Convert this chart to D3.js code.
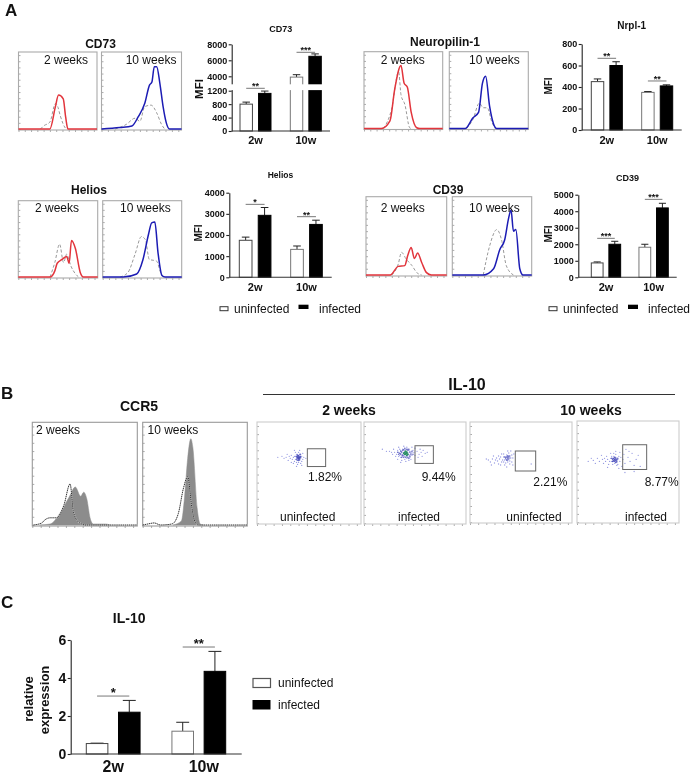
<!DOCTYPE html>
<html>
<head>
<meta charset="utf-8">
<title>Treg markers</title>
<script src="https://cdnjs.cloudflare.com/ajax/libs/d3/7.8.5/d3.min.js"></script>
<style>
  html, body { margin: 0; padding: 0; background: #fff; }
  svg { display: block; filter: blur(0.3px); }
  text { font-family: "Liberation Sans", Arial, sans-serif; fill: #111; }
  .bold { font-weight: bold; }
  .hist-axis path { display: none; }
  .hist-axis line { stroke: #888; stroke-width: 0.7; }
  .bar-axis path, .bar-axis line { stroke: #222; stroke-width: 1.1; }
  .bar-axis text { font-weight: bold; }
</style>
</head>
<body>
<svg id="fig" width="691" height="775"></svg>
<script>
// bar values
var weeks = ["2w", "10w"];
var groups = ["uninfected", "infected"];
var cd73Mean = [[800, 1120], [3900, 6500]];
var cd73Err = [[860, 1190], [4200, 6800]];
var cd73Ticks = [0, 400, 800, 1200, 4000, 6000, 8000];
var nrplMean = [[450, 600], [350, 410]];
var nrplErr = [[475, 635], [358, 420]];
var nrplTicks = [0, 200, 400, 600, 800];
var heliosMean = [[1750, 2930], [1320, 2500]];
var heliosErr = [[1900, 3300], [1480, 2700]];
var heliosTicks = [0, 1000, 2000, 3000, 4000];
var cd39Mean = [[870, 2000], [1820, 4200]];
var cd39Err = [[930, 2180], [2000, 4480]];
var cd39Ticks = [0, 1000, 2000, 3000, 4000, 5000];
var il10Mean = [[0.55, 2.2], [1.2, 4.35]];
var il10Err = [[0.57, 2.82], [1.67, 5.4]];
var il10Ticks = [0, 2, 4, 6];

// significance: level in axis units, stars
var cd73Sig = [[1875, "**"], [7000, "***"]];
var nrplSig = [[667, "**"], [456, "**"]];
var heliosSig = [[3449, "*"], [2866, "**"]];
var cd39Sig = [[2359, "***"], [4718, "***"]];
var il10Sig = [[3.05, "*"], [5.63, "**"]];

// histograms, [channel %, count %]
var cd73Red = [[0,0],[40,0],[47,29],[51,44],[57,39],[60,16],[63,0],[100,0]];
var cd73RedIso = [[28,0],[32,4],[40,9],[47,33],[50,29],[53,18],[60,1],[62,0]];
var cd73Blue = [[0,0],[23,2],[38,4],[46,16],[54,33],[60,57],[63,61],[66,81],[69,81],[73,59],[77,29],[81,8],[85,0],[100,0]];
var cd73BlueIso = [[17,0],[31,6],[42,14],[48,10],[54,29],[62,31],[69,21],[75,6],[79,0]];
var nrpRed = [[0,0],[22,0],[33,10],[39,51],[47,82],[51,59],[55,54],[60,21],[67,1],[71,0],[100,0]];
var nrpRedIso = [[25,0],[35,25],[44,74],[47,44],[52,31],[58,1],[60,0]];
var nrpBlue = [[0,0],[20,0],[30,14],[37,21],[42,59],[46,68],[51,29],[56,6],[60,0],[100,0]];
var nrpBlueIso = [[22,0],[30,12],[38,33],[43,27],[48,27],[54,8],[58,0]];
var helRed = [[0,0],[40,0],[46,8],[49,18],[55,23],[61,27],[64,18],[67,48],[72,37],[78,6],[82,0],[100,0]];
var helRedIso = [[40,0],[46,19],[52,43],[57,19],[61,30],[66,15],[72,4],[76,0]];
var helBlue = [[0,0],[26,0],[43,4],[51,23],[58,56],[62,71],[66,72],[70,32],[75,2],[79,0],[100,0]];
var helBlueIso = [[22,0],[32,6],[41,30],[49,53],[54,49],[59,23],[68,21],[74,4],[77,0]];
var cd39Red = [[0,0],[30,0],[40,11],[48,12],[52,26],[56,35],[60,21],[64,28],[69,16],[75,3],[81,0],[100,0]];
var cd39RedIso = [[32,0],[40,14],[44,29],[50,20],[57,12],[63,3],[69,0]];
var cd39Blue = [[0,0],[39,0],[52,8],[60,33],[66,45],[71,73],[74,83],[77,56],[80,58],[85,8],[89,0],[100,0]];
var cd39BlueIso = [[39,0],[47,37],[56,58],[62,45],[68,12],[77,0]];
var ccr5Fill2w = [[7,0],[17,1],[26,11],[35,27],[41,37],[46,28],[49,32],[52,25],[55,7],[58,1],[70,1],[74,0]];
var ccr5Line2w = [[1,0],[9,2],[12,5],[17,7],[23,7],[30,19],[36,40],[39,14],[43,4],[47,1],[50,0],[100,0]];
var ccr5Fill10w = [[29,0],[37,4],[40,27],[43,65],[46,84],[48,75],[52,17],[55,1],[58,0]];
var ccr5Line10w = [[0,0],[5,1],[11,2],[17,0],[28,1],[34,11],[39,36],[43,47],[47,17],[50,3],[53,0],[100,0]];

// dot plots, [x %, y %], hand picked from the crops
var dots2wUn = [[40,65],[39,64],[41,66],[40,67],[38,65],[42,64],[39,62],[41,62],[40,60],[38,68],[42,68],[37,63],[43,66],[36,66],[44,63],[40,70],[39,58],[42,59],[36,61],[35,65],[37,70],[34,63],[33,67],[44,69],[45,65],[32,64],[35,59],[38,56],[31,66],[30,62],[28,65],[33,60],[26,64],[24,66],[20,65],[43,57],[41,72],[47,64],[36,72],[29,68],[39,66],[41,64],[38,63],[40,63],[42,66],[37,66],[39,68],[41,68],[38,60],[43,61],[40,64],[39,65],[41,65]];
var core2wUn = [[40,65],[39.5,66],[40.5,64],[39,65],[41,65],[40,63.5],[40,66.5],[38.5,64],[41.5,66],[39,67],[41,63],[38,66],[42,65],[40,62],[38.5,62.5],[41.5,68]];
var dots2wIn = [[41,69],[39,70],[43,70],[38,68],[44,68],[37,71],[45,71],[36,69],[46,69],[40,66],[42,66],[38,73],[43,73],[35,67],[47,67],[34,70],[48,72],[33,72],[36,65],[45,65],[40,63],[42,75],[37,62],[44,62],[32,68],[31,66],[30,70],[29,73],[28,68],[27,70],[25,71],[34,75],[39,76],[47,75],[49,70],[50,67],[46,63],[41,61],[36,60],[33,63],[52,71],[54,68],[56,70],[58,72],[55,73],[60,69],[53,65],[57,66],[62,70],[50,74],[22,71],[18,73],[38,66],[40,72],[44,72],[42,64],[35,73],[37,67],[39,67],[43,67],[45,67],[41,73],[47,70],[36,72],[34,66]];
var mid2wIn = [[37,70],[38,67],[38,72],[36,68],[45,70],[46,68],[44,73],[45,66],[39,65],[43,65],[41,65],[40,74],[42,73],[36,71],[47,71],[35,69],[48,68],[37,65],[44,64],[39,72.5],[43,72],[34,68],[33,70]];
var green2wIn = [[41,69],[42,70],[40,68],[43,68],[41,71],[39,69],[42,67],[40,70],[41,68],[42,69]];
var dots10wUn = [[37,64],[36,62],[38,66],[35,65],[39,61],[37,60],[40,64],[34,62],[36,67],[38,69],[33,65],[41,67],[35,59],[39,58],[32,62],[30,65],[31,60],[29,63],[33,68],[37,71],[28,66],[27,61],[26,64],[34,57],[41,60],[42,64],[43,68],[25,62],[24,59],[22,63],[20,60],[23,66],[18,62],[16,63],[30,57],[36,55],[40,71],[28,58],[21,57],[42,57],[35,63],[37,66],[39,64],[33,60],[31,68],[60,58]];
var core10wUn = [[37,64],[36,65],[38,63],[37,66],[36,62],[38,65],[39,66],[35,64],[37,62],[34,65]];
var dots10wIn = [[37,62],[36,60],[38,64],[35,63],[39,59],[37,58],[40,62],[34,60],[36,65],[38,67],[33,63],[41,65],[35,57],[39,56],[32,60],[42,60],[40,57],[36,68],[43,64],[30,62],[31,57],[29,65],[28,60],[33,68],[38,70],[27,63],[26,58],[25,62],[24,66],[45,62],[46,67],[47,58],[44,55],[42,69],[22,60],[20,63],[18,58],[16,61],[14,63],[11,60],[48,72],[50,64],[52,60],[54,68],[56,56],[58,62],[60,66],[62,55],[51,70],[37,61],[38,62],[36,63],[35,60],[39,61],[37,64],[34,65],[30,54],[41,53],[47,49],[56,50]];
var core10wIn = [[37,62],[36,61],[38,63],[37,60],[36,63],[38,61],[39,62],[35,62],[37,64],[35,60],[39,60],[38,59],[34,63],[40,63]];
var dotGates = [[48.4, 66, 55.9, 73.5], [50, 68, 59, 76.5], [44.4, 64.4, 51, 71], [44.8, 68.3, 52, 76.5]];
var percentLabels = ["1.82%", "9.44%", "2.21%", "8.77%"];
var histTicks = [0, 8, 16, 24, 32, 40, 48, 56, 64, 72, 80, 88, 96];

var svg = d3.select("#fig");

function label(x, y, str, size, bold, anchor) {
    return svg.append("text")
        .attr("class", bold ? "bold" : null)
        .attr("x", x)
        .attr("y", y)
        .attr("text-anchor", anchor || "start")
        .style("font-size", size + "px")
        .text(str);
}

function vLabel(x, y, str, size) {
    return svg.append("text")
        .attr("class", "bold")
        .attr("text-anchor", "middle")
        .attr("transform", "translate(" + x + "," + y + ") rotate(-90)")
        .style("font-size", size + "px")
        .text(str);
}

function panelScales(box) {
    return {
        x: d3.scaleLinear().domain([0, 100]).range([box[0], box[1]]),
        y: d3.scaleLinear().domain([0, 100]).range([box[3] - 1, box[2]])
    };
}

function panelFrame(box, s, color) {
    svg.append("g").attr("class", "hist-axis")
        .attr("transform", "translate(0," + box[3] + ")")
        .call(d3.axisBottom(s.x).tickValues(histTicks).tickSize(2).tickFormat(""));
    svg.append("g").attr("class", "hist-axis")
        .attr("transform", "translate(" + box[0] + ",0)")
        .call(d3.axisRight(s.y).tickValues(histTicks).tickSize(2).tickFormat(""));
    svg.append("rect")
        .attr("x", box[0]).attr("y", box[2])
        .attr("width", box[1] - box[0]).attr("height", box[3] - box[2])
        .attr("fill", "none")
        .attr("stroke", color)
        .attr("stroke-width", 1.1);
}

// box is [left, right, top, bottom]
function histogram(box, curve, iso, color, caption, capX, capY) {
    var s = panelScales(box);
    var line = d3.line().x(function (d) { return s.x(d[0]); }).y(function (d) { return s.y(d[1]); }).curve(d3.curveMonotoneX);
    panelFrame(box, s, "#aaa");
    svg.append("path").attr("d", line(iso))
        .attr("fill", "none").attr("stroke", "#999").attr("stroke-width", 1).attr("stroke-dasharray", "3,2");
    svg.append("path").attr("d", line(curve))
        .attr("fill", "none").attr("stroke", color).attr("stroke-width", 1.5);
    label(capX, capY, caption, 12);
}

function ccr5(box, filled, dotted, caption, capX) {
    var s = panelScales(box);
    var line = d3.line().x(function (d) { return s.x(d[0]); }).y(function (d) { return s.y(d[1]); }).curve(d3.curveMonotoneX);
    panelFrame(box, s, "#999");
    svg.append("path").attr("d", line(filled) + "Z").attr("fill", "#8c8c8c").attr("stroke", "#8c8c8c").attr("stroke-width", 0.5);
    svg.append("path").attr("d", line(dotted)).attr("fill", "none").attr("stroke", "#fff").attr("stroke-width", 1.2).attr("stroke-opacity", 0.7);
    svg.append("path").attr("d", line(dotted))
        .attr("fill", "none").attr("stroke", "#333").attr("stroke-width", 1).attr("stroke-dasharray", "1.5,0.6");
    label(capX, 434, caption, 12);
}

function dots(s, data, r, color, opacity) {
    svg.append("g").selectAll("circle").data(data).enter().append("circle")
        .attr("cx", function (d) { return s.x(d[0]); })
        .attr("cy", function (d) { return s.y(d[1]); })
        .attr("r", r)
        .attr("fill", color)
        .attr("fill-opacity", opacity);
}

function dotPlot(box, outer, core, hot, gate, pct, pctX, pctY, tag, tagX) {
    var s = panelScales(box);
    panelFrame(box, s, "#ccc");
    dots(s, outer, 0.65, "#6a6fd6", 0.7);
    dots(s, core, 0.8, "#4044b4", 0.8);
    dots(s, hot, 0.95, "#2c8f66", 1);
    svg.append("rect")
        .attr("x", s.x(gate[0])).attr("y", s.y(gate[3]))
        .attr("width", s.x(gate[1]) - s.x(gate[0]))
        .attr("height", s.y(gate[2]) - s.y(gate[3]))
        .attr("fill", "none").attr("stroke", "#666").attr("stroke-width", 1);
    label(pctX, pctY, pct, 12);
    label(tagX, 520.7, tag, 12, false, "middle");
}

function barChart(o) {
    var y = d3.scaleLinear().domain(o.domain).range(o.range);
    var x0 = d3.scaleBand().domain(weeks).range([o.barL, o.barR]).paddingInner(o.inner || 0.384);
    var x1 = d3.scaleBand().domain(groups).range([0, x0.bandwidth()]).paddingInner(0.33);
    var base = o.range[0];

    weeks.forEach(function (w, i) {
        var g = svg.append("g").attr("transform", "translate(" + x0(w) + ",0)");
        g.selectAll("line.err").data(groups).enter().append("line")
            .attr("x1", function (d) { return x1(d) + x1.bandwidth() / 2; })
            .attr("x2", function (d) { return x1(d) + x1.bandwidth() / 2; })
            .attr("y1", function (d, j) { return y(o.mean[i][j]); })
            .attr("y2", function (d, j) { return y(o.err[i][j]); })
            .attr("stroke", "#222").attr("stroke-width", 1);
        g.selectAll("line.cap").data(groups).enter().append("line")
            .attr("x1", function (d) { return x1(d) + x1.bandwidth() * 0.2; })
            .attr("x2", function (d) { return x1(d) + x1.bandwidth() * 0.8; })
            .attr("y1", function (d, j) { return y(o.err[i][j]); })
            .attr("y2", function (d, j) { return y(o.err[i][j]); })
            .attr("stroke", "#222").attr("stroke-width", 1);
        g.selectAll("rect").data(groups).enter().append("rect")
            .attr("x", function (d) { return x1(d); })
            .attr("y", function (d, j) { return y(o.mean[i][j]); })
            .attr("width", x1.bandwidth())
            .attr("height", function (d, j) { return base - y(o.mean[i][j]); })
            .attr("fill", function (d, j) { return j ? "#000" : "#fff"; })
            .attr("stroke", function (d, j) { return j ? "#000" : (i ? "#777" : "#444"); })
            .attr("stroke-width", 1);
    });

    var yAxis = svg.append("g").attr("class", "bar-axis")
        .attr("transform", "translate(" + o.left + ",0)")
        .call(d3.axisLeft(y).tickValues(o.ticks).tickSize(3).tickSizeOuter(0).tickPadding(1.5).tickFormat(d3.format("d")));
    yAxis.selectAll("text").style("font-size", o.tickSize + "px");

    // white strip for the axis break
    if (o.gap) {
        svg.append("rect")
            .attr("x", o.left - 3).attr("y", y(o.gap[1]))
            .attr("width", o.right - o.left + 6)
            .attr("height", y(o.gap[0]) - y(o.gap[1]) - 0.6)
            .attr("fill", "#fff");
    }

    weeks.forEach(function (w, i) {
        var left = x0(w) + x1(groups[0]) + x1.bandwidth() / 2;
        var right = x0(w) + x1(groups[1]) + x1.bandwidth() / 2;
        var level = y(o.sig[i][0]);
        svg.append("line")
            .attr("x1", left).attr("x2", right)
            .attr("y1", level).attr("y2", level)
            .attr("stroke", "#555").attr("stroke-width", 0.8);
        label((left + right) / 2, level + o.starSize * 0.1, o.sig[i][1], o.starSize, true, "middle");
    });

    var xAxis = svg.append("g").attr("class", "bar-axis")
        .attr("transform", "translate(0," + base + ")")
        .call(d3.axisBottom(x0).tickSize(0).tickPadding(o.labelPad));
    xAxis.select("path").remove();
    xAxis.selectAll("text").style("font-size", o.weekSize + "px");
    if (o.lastWeekDx) {
        xAxis.selectAll("text").filter(function (d) { return d === weeks[1]; }).attr("dx", o.lastWeekDx);
    }
    svg.append("line")
        .attr("x1", o.left).attr("x2", o.right)
        .attr("y1", base).attr("y2", base)
        .attr("stroke", "#333").attr("stroke-width", 1.1);
    label((o.left + o.right) / 2 + (o.titleDx || 0), o.titleY, o.title, o.titleSize, true, "middle");
}

function smallLegend(rectX, textX, blackX, infX) {
    svg.append("rect").attr("x", rectX).attr("y", 306.7).attr("width", 8).attr("height", 4)
        .attr("fill", "#fff").attr("stroke", "#333").attr("stroke-width", 1);
    label(textX, 313, groups[0], 12);
    svg.append("rect").attr("x", blackX).attr("y", 304.7).attr("width", 10).attr("height", 4.3).attr("fill", "#000");
    label(infX, 313, groups[1], 12);
}

// panel letters
label(5, 16, "A", 17, true);
label(1, 399, "B", 17, true);
label(1, 608, "C", 17, true);

// panel A histograms
label(100.5, 48, "CD73", 12, true, "middle");
histogram([18.5, 97, 52, 130], cd73Red, cd73RedIso, "#e2353c", "2 weeks", 44, 64);
histogram([101.5, 181.5, 52, 130], cd73Blue, cd73BlueIso, "#1c1cb4", "10 weeks", 125.7, 64);
label(445, 46, "Neuropilin-1", 12, true, "middle");
histogram([364, 442.7, 51.7, 129.5], nrpRed, nrpRedIso, "#e2353c", "2 weeks", 380.7, 64);
histogram([449.3, 528.3, 51.7, 129.5], nrpBlue, nrpBlueIso, "#1c1cb4", "10 weeks", 469, 64);
label(89, 194, "Helios", 12, true, "middle");
histogram([18.3, 97.7, 200.7, 278], helRed, helRedIso, "#e2353c", "2 weeks", 35, 212);
histogram([102.7, 181.7, 200.7, 278], helBlue, helBlueIso, "#1c1cb4", "10 weeks", 120, 212);
label(448, 194, "CD39", 12, true, "middle");
histogram([366, 446.7, 196.7, 276], cd39Red, cd39RedIso, "#e2353c", "2 weeks", 380.7, 212);
histogram([452.3, 531.7, 196.7, 276], cd39Blue, cd39BlueIso, "#1c1cb4", "10 weeks", 469, 212);

// panel A bars, CD73 has a broken axis
barChart({
    mean: cd73Mean, err: cd73Err, sig: cd73Sig, ticks: cd73Ticks,
    domain: [0, 1200, 3000, 8000], range: [131, 90.7, 84.3, 44.3], gap: [1200, 3000],
    left: 231.7, right: 330, barL: 240, barR: 321.3,
    tickSize: 9, weekSize: 11, labelPad: 5.5, starSize: 9,
    title: "CD73", titleY: 32, titleSize: 9
});
vLabel(203, 89, "MFI", 11.5);

barChart({
    mean: nrplMean, err: nrplErr, sig: nrplSig, ticks: nrplTicks,
    domain: [0, 800], range: [130, 44],
    left: 581.7, right: 681.7, barL: 591.3, barR: 672.7,
    tickSize: 9, weekSize: 11, labelPad: 6, starSize: 9,
    title: "Nrpl-1", titleY: 29, titleSize: 10
});
vLabel(552, 86, "MFI", 10);

barChart({
    mean: heliosMean, err: heliosErr, sig: heliosSig, ticks: heliosTicks,
    domain: [0, 4000], range: [277.3, 192.7],
    left: 229.3, right: 331.7, barL: 239.3, barR: 322.3,
    tickSize: 9, weekSize: 11, labelPad: 6, starSize: 9,
    title: "Helios", titleY: 178, titleSize: 8.5
});
vLabel(202, 233, "MFI", 10);

barChart({
    mean: cd39Mean, err: cd39Err, sig: cd39Sig, ticks: cd39Ticks,
    domain: [0, 5000], range: [277.3, 194.7],
    left: 578.3, right: 676.7, barL: 591.3, barR: 668.3,
    tickSize: 9, weekSize: 11, labelPad: 6, starSize: 9,
    title: "CD39", titleY: 181, titleSize: 9
});
vLabel(552, 234, "MFI", 10);

smallLegend(220, 234, 298.5, 319);
smallLegend(549, 563, 628, 648);

// panel B
label(139, 411, "CCR5", 14, true, "middle");
ccr5([32.3, 137.3, 422.3, 526], ccr5Fill2w, ccr5Line2w, "2 weeks", 36);
ccr5([142.7, 247.3, 422.3, 526], ccr5Fill10w, ccr5Line10w, "10 weeks", 147.5);

label(467, 390, "IL-10", 16, true, "middle");
svg.append("line").attr("x1", 263).attr("x2", 675).attr("y1", 394.5).attr("y2", 394.5)
    .attr("stroke", "#333").attr("stroke-width", 1);
label(349, 415, "2 weeks", 14, true, "middle");
label(591, 415, "10 weeks", 14, true, "middle");

dotPlot([257, 361, 422, 524], dots2wUn, core2wUn, [], dotGates[0], percentLabels[0], 308, 481, groups[0], 307.7);
dotPlot([364, 466, 422, 524], dots2wIn, mid2wIn, green2wIn, dotGates[1], percentLabels[1], 421.7, 481, groups[1], 419);
dotPlot([470, 572, 422, 523], dots10wUn, core10wUn, [], dotGates[2], percentLabels[2], 533.3, 486, groups[0], 534);
dotPlot([577, 679, 421, 523], dots10wIn, core10wIn, [], dotGates[3], percentLabels[3], 644.7, 486, groups[1], 646);

// panel C
barChart({
    mean: il10Mean, err: il10Err, sig: il10Sig, ticks: il10Ticks,
    domain: [0, 6], range: [754, 640],
    left: 70.7, right: 241.7, barL: 86.3, barR: 225.7, inner: 0.372,
    tickSize: 14, weekSize: 16, labelPad: 7, starSize: 13, lastWeekDx: 5,
    title: "IL-10", titleY: 623, titleSize: 14, titleDx: -27
});
vLabel(33, 699, "relative", 13);
vLabel(49, 700, "expression", 13);

svg.append("rect").attr("x", 253).attr("y", 678.5).attr("width", 17.5).attr("height", 9)
    .attr("fill", "#fff").attr("stroke", "#555").attr("stroke-width", 1.2);
label(278, 687, groups[0], 12);
svg.append("rect").attr("x", 252.5).attr("y", 700).attr("width", 18).attr("height", 9.5).attr("fill", "#000");
label(278, 709, groups[1], 12);
</script>
</body>
</html>
